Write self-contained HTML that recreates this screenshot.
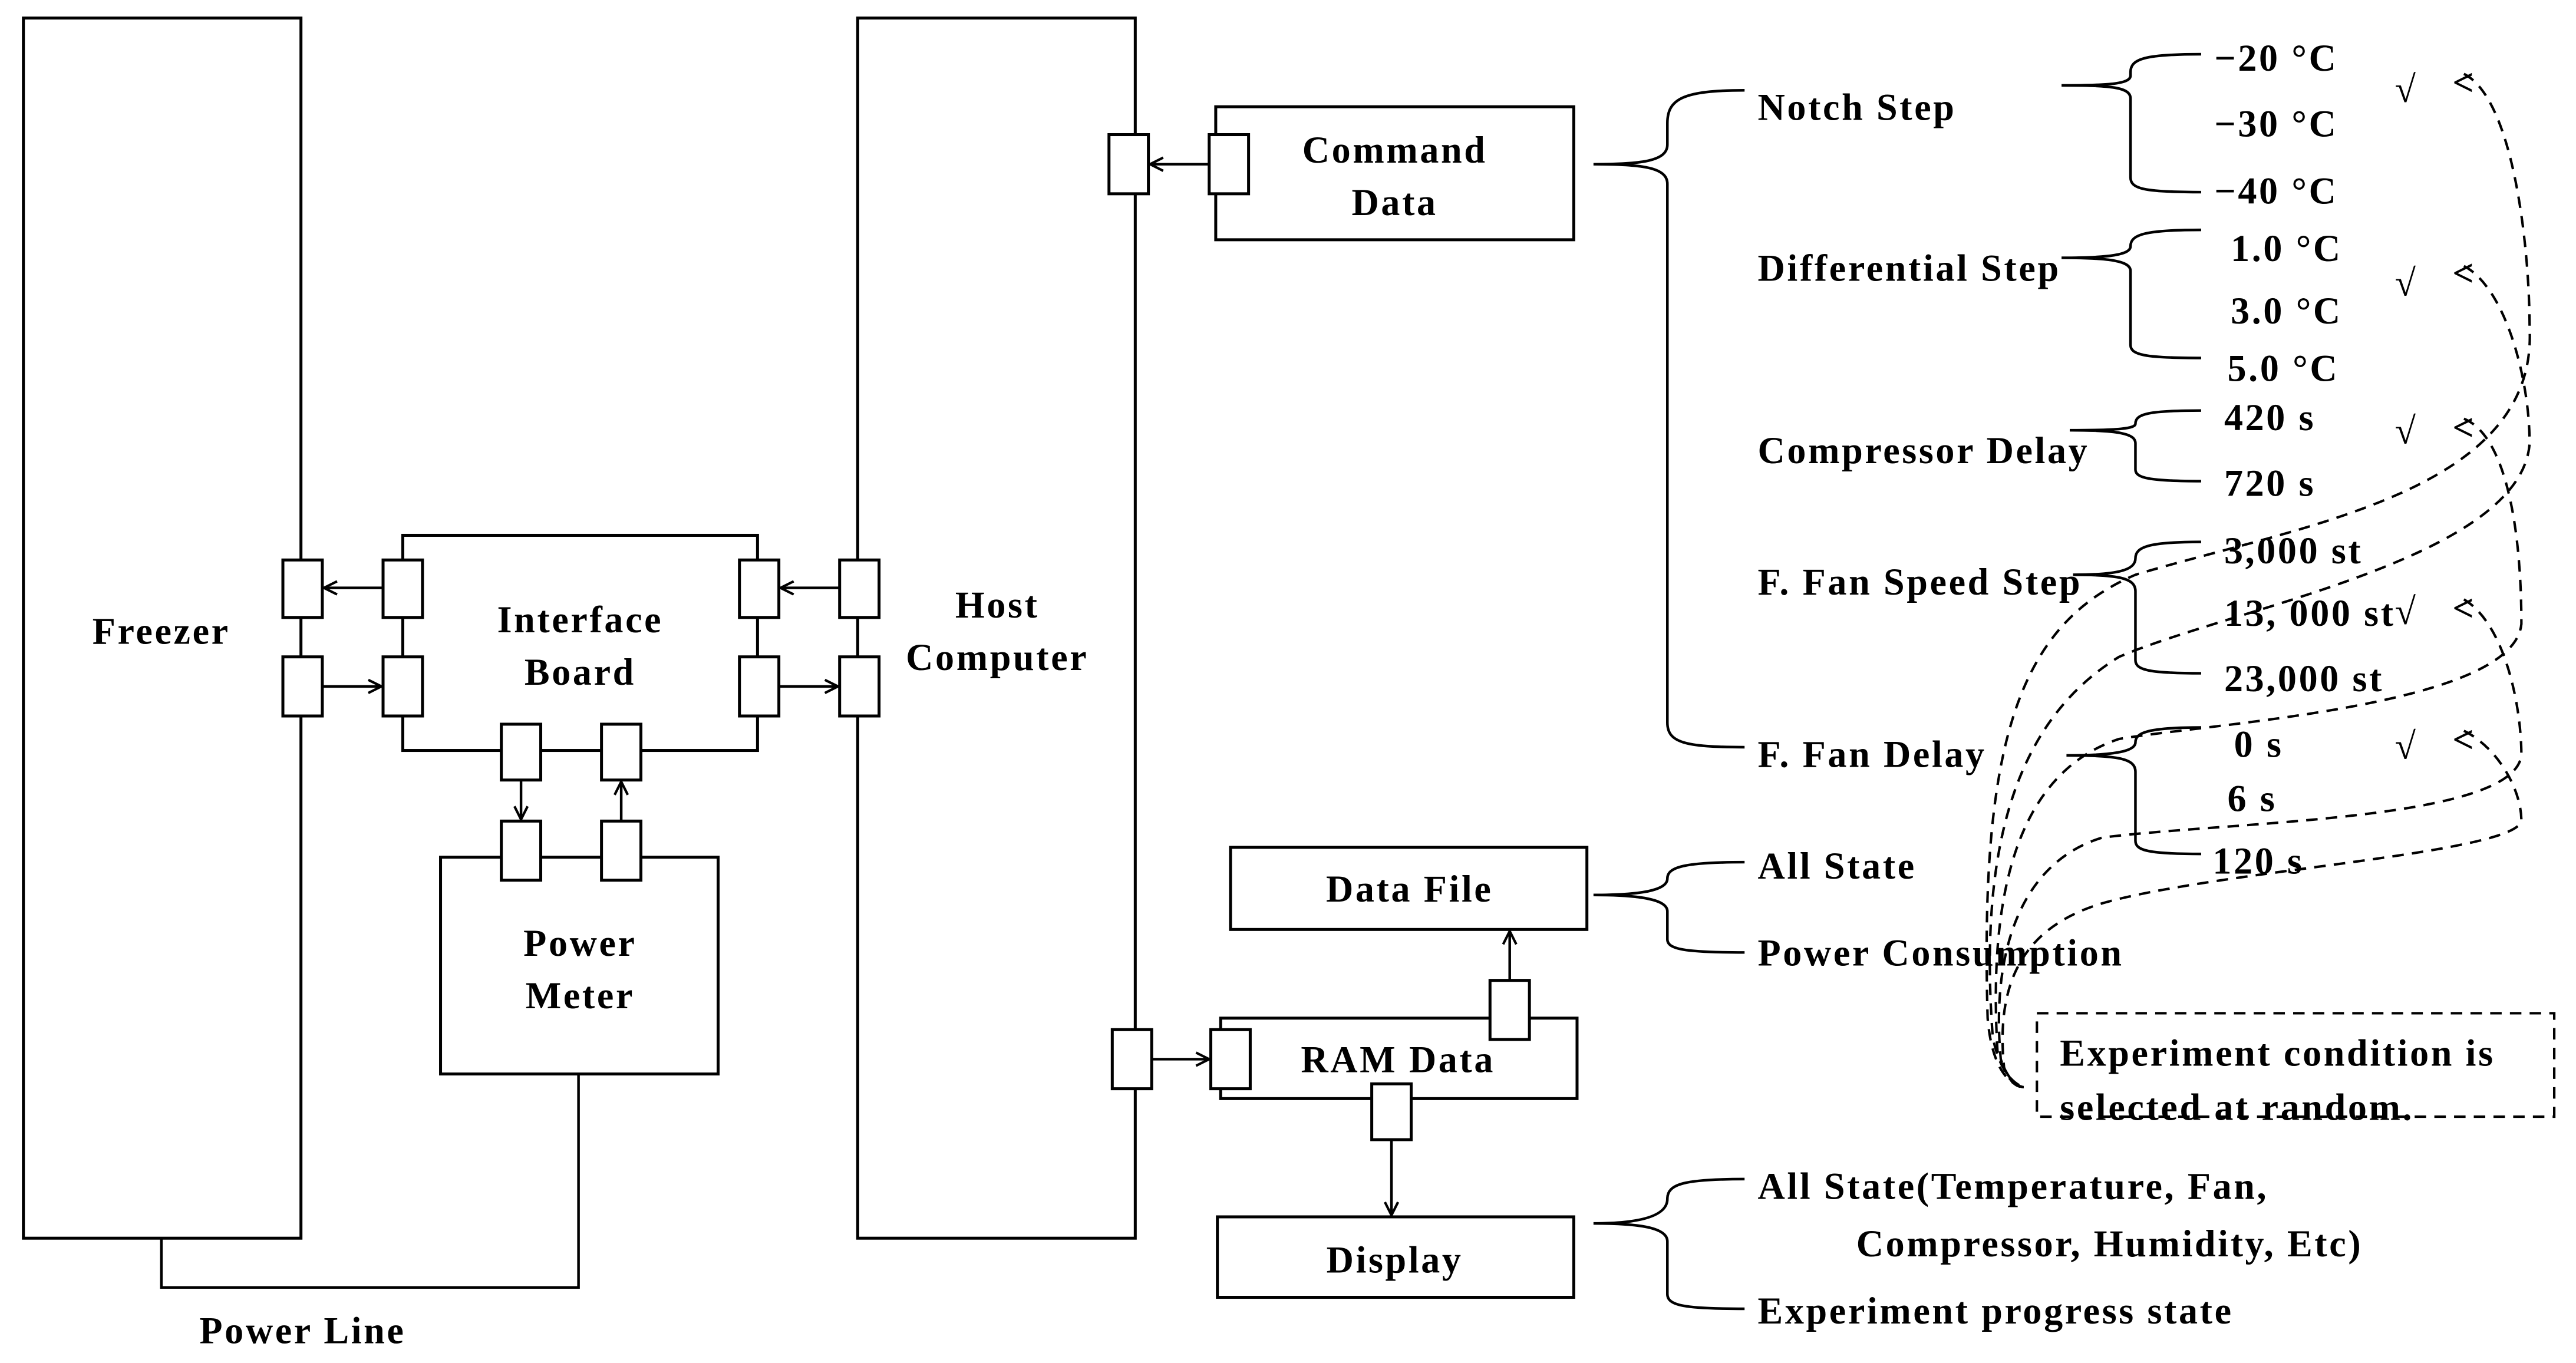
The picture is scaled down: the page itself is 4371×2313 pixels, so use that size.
<!DOCTYPE html>
<html><head><meta charset="utf-8"><style>
html,body{margin:0;padding:0;background:#fff;}
svg{display:block;}
text{font-family:"Liberation Serif",serif;font-weight:bold;font-size:23px;letter-spacing:1.3px;fill:#000;}
</style></head><body>
<svg width="4371" height="2313" viewBox="0 0 1568 830" xmlns="http://www.w3.org/2000/svg">
<defs><marker id="a" markerWidth="10" markerHeight="10" refX="9" refY="5" orient="auto" markerUnits="userSpaceOnUse"><path d="M1,1 L9,5 L1,9" fill="none" stroke="#000" stroke-width="1.5"/></marker></defs>
<g fill="#fff" stroke="#000" stroke-width="1.8">
<rect x="14" y="11" width="169" height="743"/>
<rect x="522" y="11" width="169" height="743"/>
<rect x="245" y="326" width="216" height="131"/>
<rect x="268" y="522" width="169" height="132"/>
<rect x="740" y="65" width="218" height="81"/>
<rect x="743" y="620" width="217" height="49"/>
<rect x="749" y="516" width="217" height="50"/>
<rect x="741" y="741" width="217" height="49"/>
<rect x="172" y="341" width="24" height="35"/><rect x="172" y="400" width="24" height="36"/>
<rect x="233" y="341" width="24" height="35"/><rect x="233" y="400" width="24" height="36"/>
<rect x="450" y="341" width="24" height="35"/><rect x="450" y="400" width="24" height="36"/>
<rect x="511" y="341" width="24" height="35"/><rect x="511" y="400" width="24" height="36"/>
<rect x="305" y="441" width="24" height="34"/><rect x="366" y="441" width="24" height="34"/>
<rect x="305" y="500" width="24" height="36"/><rect x="366" y="500" width="24" height="36"/>
<rect x="675" y="82" width="24" height="36"/><rect x="736" y="82" width="24" height="36"/>
<rect x="677" y="627" width="24" height="36"/><rect x="737" y="627" width="24" height="36"/>
<rect x="907" y="597" width="24" height="36"/><rect x="835" y="660" width="24" height="34"/>
</g>
<g fill="none" stroke="#000" stroke-width="1.6">
<line x1="233" y1="358" x2="197" y2="358" marker-end="url(#a)"/>
<line x1="196" y1="418" x2="232" y2="418" marker-end="url(#a)"/>
<line x1="511" y1="358" x2="475" y2="358" marker-end="url(#a)"/>
<line x1="474" y1="418" x2="510" y2="418" marker-end="url(#a)"/>
<line x1="317" y1="475" x2="317" y2="499" marker-end="url(#a)"/>
<line x1="378" y1="500" x2="378" y2="476" marker-end="url(#a)"/>
<line x1="736" y1="100" x2="700" y2="100" marker-end="url(#a)"/>
<line x1="701" y1="645" x2="736" y2="645" marker-end="url(#a)"/>
<line x1="919" y1="597" x2="919" y2="567" marker-end="url(#a)"/>
<line x1="847" y1="694" x2="847" y2="740" marker-end="url(#a)"/>
<polyline points="98,754 98,784 352,784 352,654"/>
<path d="M1062,55 C1025,55 1015,60 1015,75 L1015,88 C1015,98 1000,100 970,100 C1000,100 1015,102 1015,112 L1015,440 C1015,452 1025,455 1062,455"/>
<path d="M1340,33 C1305,33 1297,36 1297,44 L1297,46 C1297,51 1285,52 1255,52 C1285,52 1297,53 1297,60 L1297,108 C1297,115 1305,117 1340,117"/>
<path d="M1340,140 C1305,140 1297,143 1297,150 C1297,155 1285,157 1255,157 C1285,157 1297,159 1297,165 L1297,210 C1297,216 1305,218 1340,218"/>
<path d="M1340,250 C1308,250 1300,252 1300,258 C1300,261 1290,262 1260,262 C1290,262 1300,264 1300,270 L1300,286 C1300,291 1308,293 1340,293"/>
<path d="M1340,330 C1308,330 1300,333 1300,340 C1300,347 1290,350 1262,350 C1290,350 1300,352 1300,360 L1300,402 C1300,408 1308,410 1340,410"/>
<path d="M1340,443 C1308,443 1300,446 1300,452 C1300,457 1290,460 1258,460 C1290,460 1300,462 1300,470 L1300,512 C1300,518 1308,520 1340,520"/>
<path d="M1062,525 C1025,525 1015,528 1015,535 C1015,542 1000,545 970,545 C1000,545 1015,548 1015,555 L1015,572 C1015,578 1025,580 1062,580"/>
<path d="M1062,718 C1025,718 1015,721 1015,730 C1015,740 1000,745 970,745 C1000,745 1015,748 1015,756 L1015,788 C1015,795 1025,797 1062,797"/>
</g>
<g fill="none" stroke="#000" stroke-width="1.5" stroke-dasharray="7,5">
<path d="M1500,45 C1530,60 1540,150 1540,200 C1545,300 1400,320 1300,350 C1230,380 1205,450 1210,620 C1212,645 1220,660 1232,662"/>
<path d="M1500,162 C1525,175 1540,230 1540,270 C1535,340 1360,370 1290,400 C1225,440 1205,520 1213,630 C1216,650 1225,660 1232,662"/>
<path d="M1500,255 C1525,265 1535,320 1535,380 C1530,430 1350,440 1290,450 C1230,470 1210,540 1216,640 C1220,655 1226,662 1232,662"/>
<path d="M1500,365 C1525,380 1535,430 1535,460 C1530,500 1360,500 1280,510 C1230,525 1212,580 1218,645 C1222,657 1228,662 1232,662"/>
<path d="M1500,445 C1520,455 1535,480 1535,500 C1530,520 1350,530 1280,550 C1230,565 1215,600 1220,650 C1224,660 1228,662 1232,662"/>
<rect x="1240" y="617" width="315" height="63"/>
</g>
<text x="56" y="392">Freezer</text>
<text x="607" y="376" text-anchor="middle">Host</text>
<text x="607" y="408" text-anchor="middle">Computer</text>
<text x="353" y="385" text-anchor="middle">Interface</text>
<text x="353" y="417" text-anchor="middle">Board</text>
<text x="353" y="582" text-anchor="middle">Power</text>
<text x="353" y="614" text-anchor="middle">Meter</text>
<text x="184" y="818" text-anchor="middle" font-size="25">Power Line</text>
<text x="849" y="99" text-anchor="middle">Command</text>
<text x="849" y="131" text-anchor="middle">Data</text>
<text x="858" y="549" text-anchor="middle">Data File</text>
<text x="851" y="653" text-anchor="middle">RAM Data</text>
<text x="849" y="775" text-anchor="middle">Display</text>
<text x="1070" y="73">Notch Step</text>
<text x="1070" y="171">Differential Step</text>
<text x="1070" y="282">Compressor Delay</text>
<text x="1070" y="362">F. Fan Speed Step</text>
<text x="1070" y="467">F. Fan Delay</text>
<text x="1070" y="535">All State</text>
<text x="1070" y="588">Power Consumption</text>
<text x="1348" y="43">−20 °C</text>
<text x="1348" y="83">−30 °C</text>
<text x="1348" y="124">−40 °C</text>
<text x="1358" y="159">1.0 °C</text>
<text x="1358" y="197">3.0 °C</text>
<text x="1356" y="232">5.0 °C</text>
<text x="1354" y="262">420 s</text>
<text x="1354" y="302">720 s</text>
<text x="1354" y="343">3,000 st</text>
<text x="1354" y="381">13, 000 st</text>
<text x="1354" y="421">23,000 st</text>
<text x="1360" y="461">0 s</text>
<text x="1356" y="494">6 s</text>
<text x="1347" y="532">120 s</text>
<g font-size="28" font-weight="normal"><text x="1458" y="62">√</text><text x="1458" y="180">√</text><text x="1458" y="270">√</text><text x="1458" y="380">√</text><text x="1458" y="462">√</text></g>
<g font-size="26" font-weight="normal"><text x="1493" y="58">&lt;</text><text x="1493" y="174">&lt;</text><text x="1493" y="268">&lt;</text><text x="1493" y="378">&lt;</text><text x="1493" y="458">&lt;</text></g>
<text x="1254" y="649">Experiment condition is</text>
<text x="1254" y="682">selected at random.</text>
<text x="1070" y="730">All State(Temperature, Fan,</text>
<text x="1130" y="765">Compressor, Humidity, Etc)</text>
<text x="1070" y="806">Experiment progress state</text>
</svg>
</body></html>
